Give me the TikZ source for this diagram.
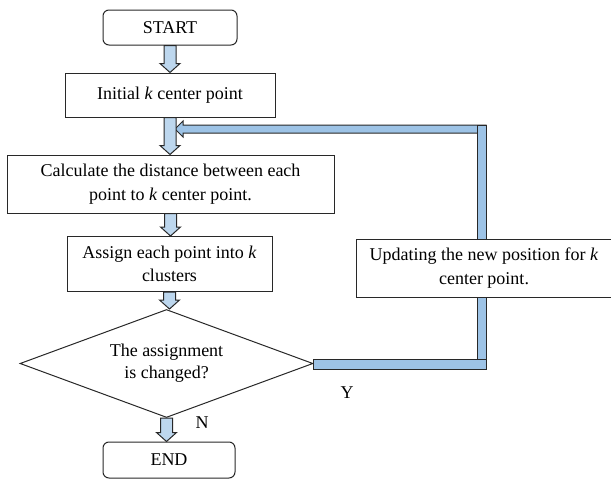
\documentclass[tikz,border=0pt]{standalone}
\usepackage{fontspec}
\setmainfont{Liberation Serif}
\usetikzlibrary{calc,shapes.geometric}

\definecolor{arrowfill}{RGB}{189,215,238}
\definecolor{loopfill}{RGB}{157,195,230}
\definecolor{edge}{RGB}{40,40,40}

\tikzset{
  box/.style={draw=edge, line width=1pt, fill=white, inner sep=0pt,
              align=center, font=\fontsize{18}{23.5}\selectfont},
  roundbox/.style={box, rounded corners=6pt},
  decision/.style={draw=edge, line width=1pt, fill=white, diamond, inner sep=0pt,
              shape aspect=2.7, align=center, font=\fontsize{18}{22}\selectfont},
  blk/.style={draw=edge, line width=1pt, fill=arrowfill, line join=miter},
  loopblk/.style={draw=edge, line width=1pt, fill=loopfill, line join=miter},
  lbl/.style={font=\fontsize{18}{22}\selectfont, inner sep=0pt}
}

% downward block arrow from the first point to the second node anchor
\newcommand\downblock[2]{%
  \coordinate (tip) at (#1 |- #2);
  \filldraw[blk] ($(#1)+(-6,0)$) -- ($(tip)+(-6,-9)$) -- ($(tip)+(-10,-9)$) -- (tip)
     -- ($(tip)+(10,-9)$) -- ($(tip)+(6,-9)$) -- ($(#1)+(6,0)$) -- cycle;}

\begin{document}
\begin{tikzpicture}[x=1pt, y=-1pt]
\useasboundingbox (0,0) rectangle (611,479);

% flow boxes
\node[roundbox, minimum width=134pt, minimum height=35pt] (start) at (170,27.5) {START};
\node[box, minimum width=210pt, minimum height=44pt] (init) at (170,95) {Initial \textit{k} center point};
\node[box, minimum width=327pt, minimum height=58pt] (calc) at (170.5,184)
  {Calculate the distance between each\\point to \textit{k} center point.};
\node[box, minimum width=205pt, minimum height=55pt] (assign) at (169.5,264)
  {Assign each point into \textit{k}\\clusters};
\node[decision, minimum width=293pt, minimum height=108pt] (test) at (166.5,363.5)
  {The assignment\\is changed?};
\node[roundbox, minimum width=132pt, minimum height=36pt] (finish) at (169,460) {END};

% feedback loop: right of the decision, up, and back into the flow
\coordinate (loopin) at (175,129);
\coordinate (cornerlow) at (481.5,364.5);
\coordinate (cornerhigh) at (481.5,129);
\filldraw[loopblk] ($(cornerhigh)+(4.5,-4)$) -- ($(loopin)+(8,-4)$) -- ($(loopin)+(8,-8)$)
   -- (loopin) -- ($(loopin)+(8,8)$) -- ($(loopin)+(8,4)$) -- ($(cornerhigh)+(4.5,4)$) -- cycle;
\filldraw[loopblk] ($(cornerhigh)+(-4.5,-4)$) rectangle ($(cornerlow)+(4.5,4.5)$);
\filldraw[loopblk] ($(test.east)+(0,-4.5)$) rectangle ($(cornerlow)+(5,4.5)$);

\node[box, minimum width=256pt, minimum height=58pt] (update) at (484,268)
  {Updating the new position for \textit{k}\\center point.};

% main flow arrows
\downblock{start.south}{init.north}
\downblock{init.south}{calc.north}
\downblock{calc.south}{assign.north}
\downblock{assign.south}{test.north}
\downblock{test.south}{finish.north}

% branch labels
\node[lbl] (ylabel) at (347,393) {Y};
\node[lbl] (nlabel) at (202,423) {N};
\end{tikzpicture}
\end{document}
